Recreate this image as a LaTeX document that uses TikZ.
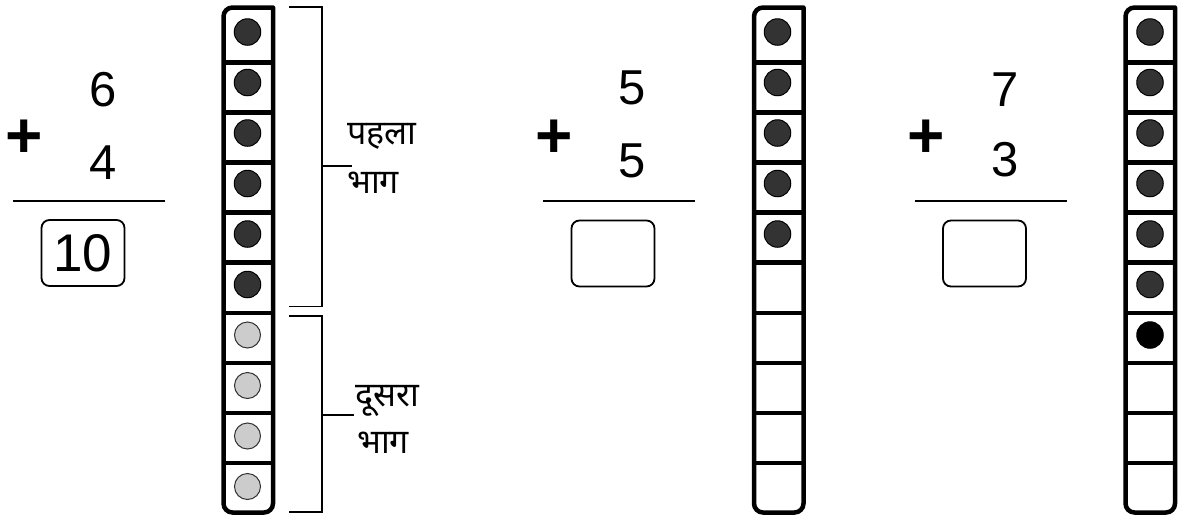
\documentclass[tikz,border=0pt]{standalone}
\usepackage{fontspec}
\setmainfont{Liberation Sans}
\newfontfamily\hindi[Script=Devanagari]{Noto Sans}
\definecolor{darkdot}{HTML}{333333}
\definecolor{lightdot}{HTML}{CCCCCC}
\tikzset{
  frameline/.style={line width=4.5pt, line join=round},
  divline/.style={line width=4.5pt},
  darkbead/.style={circle, fill=darkdot, draw=black, line width=1pt, minimum size=26.5pt, inner sep=0pt},
  lightbead/.style={circle, fill=lightdot, draw=darkdot, line width=1pt, minimum size=26pt, inner sep=0pt},
  blackbead/.style={circle, fill=black, draw=black, line width=1pt, minimum size=26.5pt, inner sep=0pt},
  digit/.style={font=\fontsize{49}{49}\selectfont, inner sep=0pt},
  plussign/.style={font=\fontsize{64}{64}\selectfont\bfseries, inner sep=0pt},
  answerbox/.style={draw, line width=1.8pt, rounded corners=8pt, minimum width=83pt, minimum height=66pt, inner sep=0pt, font=\fontsize{53}{53}\selectfont},
  sumline/.style={line width=2.2pt},
  bracketline/.style={line width=1.6pt},
  hinditext/.style={font=\hindi\fontsize{34}{34}\selectfont, inner sep=0pt, anchor=base west}
}
\begin{document}
\begin{tikzpicture}[x=1pt,y=-1pt]
\useasboundingbox[fill=white] (0,0) rectangle (1179,520);

% ---------- problem 1 ----------
\node[digit] (a1) at (103.5,89.5) {6};
\node[digit] (b1) at (103.5,163) {4};
\node[plussign] (p1) at (24,139) {+};
\coordinate (l1a) at (13,201);
\coordinate (l1b) at (165,201);
\draw[sumline] (l1a) -- (l1b);
\node[answerbox] (r1) at (83,253) {10};

% ---------- problem 2 ----------
\node[digit] (a2) at (632.5,88) {5};
\node[digit] (b2) at (632.5,161) {5};
\node[plussign] (p2) at (554,139) {+};
\coordinate (l2a) at (543,201);
\coordinate (l2b) at (695,201);
\draw[sumline] (l2a) -- (l2b);
\node[answerbox] (r2) at (613,253.5) {};

% ---------- problem 3 ----------
\node[digit] (a3) at (1005,90) {7};
\node[digit] (b3) at (1005,159.5) {3};
\node[plussign] (p3) at (926,139) {+};
\coordinate (l3a) at (915,201);
\coordinate (l3b) at (1067,201);
\draw[sumline] (l3a) -- (l3b);
\node[answerbox] (r3) at (984.5,253.5) {};

% ---------- ten frames ----------
\foreach \L/\n in {223.5/1, 754/2, 1125.5/3}{
  \pgfmathsetmacro{\R}{\L+49.5}
  \foreach \k in {0,...,8}{
    \draw[divline] (\L,{62.5+50.06*\k}) -- (\R,{62.5+50.06*\k});
  }
  \draw[frameline] (\R,7.5) [rounded corners=9pt] -- (\L,7.5) -- (\L,512.5) -- (\R,512.5) [sharp corners] -- cycle;
}

% beads column 1
\foreach \k in {0,...,5}{
  \node[darkbead] (c1d\k) at (247.5,{32+50.5*\k}) {};
}
\foreach \k in {6,...,9}{
  \node[lightbead] (c1l\k) at (247.5,{32+50.5*\k}) {};
}
% beads column 2
\foreach \k in {0,...,4}{
  \node[darkbead] (c2d\k) at (777.5,{32+50.5*\k}) {};
}
% beads column 3
\foreach \k in {0,...,5}{
  \node[darkbead] (c3d\k) at (1150,{32+50.5*\k}) {};
}
\node[blackbead] (c3b6) at (1150,{32+50.5*6}) {};

% ---------- brackets ----------
\coordinate (br1a) at (289,7);
\coordinate (br1b) at (322,7);
\coordinate (br1c) at (322,306.5);
\coordinate (br1d) at (289,306.5);
\coordinate (br1m) at (322,166);
\coordinate (br1t) at (352,166);
\draw[bracketline] (br1a) -- (br1b) -- (br1c) -- (br1d);
\draw[bracketline] (br1m) -- (br1t);

\coordinate (br2a) at (289,316);
\coordinate (br2b) at (322,316);
\coordinate (br2c) at (322,512);
\coordinate (br2d) at (289,512);
\coordinate (br2m) at (322,415);
\coordinate (br2t) at (354,415);
\draw[bracketline] (br2a) -- (br2b) -- (br2c) -- (br2d);
\draw[bracketline] (br2m) -- (br2t);

\node[hinditext] (h1) at (347,144) {पहला};
\node[hinditext] (h2) at (347,193) {भाग};
\node[hinditext] (h3) at (355,406) {दूसरा};
\node[hinditext] (h4) at (357,453) {भाग};
\end{tikzpicture}
\end{document}
